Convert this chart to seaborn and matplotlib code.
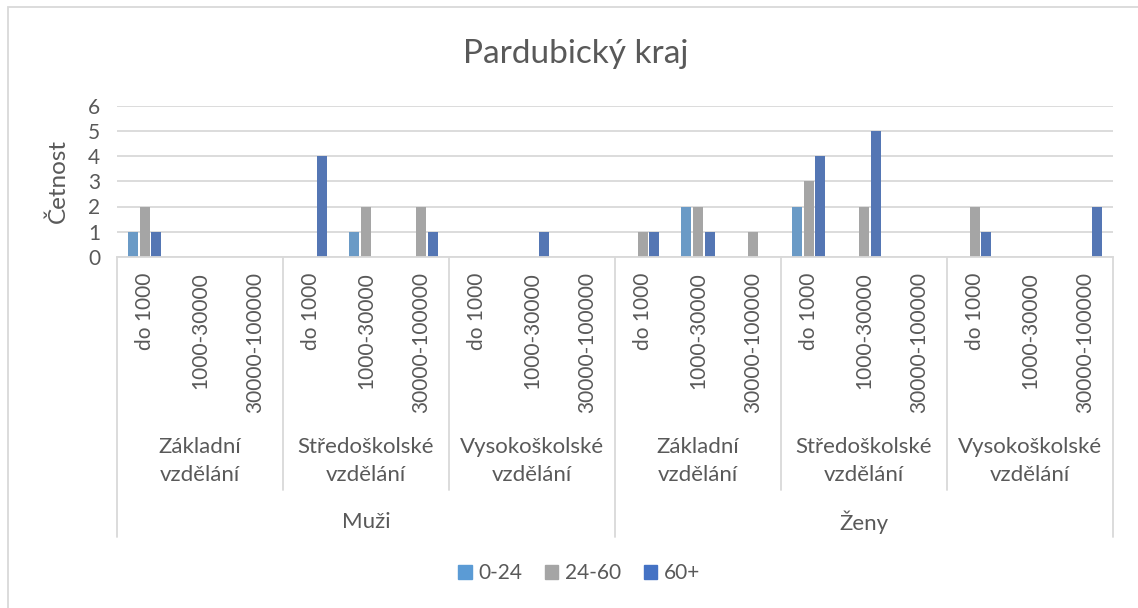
import pandas as pd
import matplotlib
matplotlib.use("Agg")
import matplotlib.pyplot as plt
import seaborn as sns
from matplotlib.patches import Rectangle

# data
velikost = ["do 1000", "1000-30000", "30000-100000"]
vzdelani = ["Základní\nvzdělání", "Středoškolské\nvzdělání", "Vysokoškolské\nvzdělání"]
pohlavi = ["Muži", "Ženy"]
vek = ["0-24", "24-60", "60+"]
hodnoty_0_24 = [1, 0, 0, 0, 1, 0, 0, 0, 0, 0, 2, 0, 2, 0, 0, 0, 0, 0]
hodnoty_24_60 = [2, 0, 0, 0, 2, 2, 0, 0, 0, 1, 2, 1, 3, 2, 0, 2, 0, 0]
hodnoty_60 = [1, 0, 0, 4, 0, 1, 0, 1, 0, 1, 1, 0, 4, 5, 0, 1, 0, 2]
barvy = ["#5B9BD5", "#A5A5A5", "#4472C4"]

sns.set_style("white")
plt.rcParams['font.family'] = ['Lato', 'DejaVu Sans']
seda = "#595959"
mrizka = "#D9D9D9"

# long table for seaborn
kategorie = []
for p in pohlavi:
    for v in vzdelani:
        for s in velikost:
            kategorie.append(p + "|" + v + "|" + s)
radky = []
for nazev, serie in zip(vek, [hodnoty_0_24, hodnoty_24_60, hodnoty_60]):
    for k, h in zip(kategorie, serie):
        radky.append({"kategorie": k, "vek": nazev, "hodnota": h})
df = pd.DataFrame(radky)

W, H = 1138, 608
fig = plt.figure(figsize=(W / 100, H / 100), dpi=100)
fig.patches.append(Rectangle((8 / W, -0.1), 1.2, 1 - 7 / H + 0.1, transform=fig.transFigure,
                             fill=False, edgecolor=mrizka, lw=1.3))

ax_l, ax_r, ax_t, ax_b = 117, 1113, 105.5, 257
ax = fig.add_axes([ax_l / W, 1 - ax_b / H, (ax_r - ax_l) / W, (ax_b - ax_t) / H])

sns.barplot(data=df, x="kategorie", y="hodnota", hue="vek", order=kategorie,
            hue_order=vek, palette=barvy, width=0.63, gap=0.15, linewidth=0,
            ax=ax, legend=False)

ax.set_ylim(0, 6)
ax.set_xlim(-0.5, len(kategorie) - 0.5)
ax.set_yticks(range(0, 7))
ax.yaxis.grid(True, color=mrizka, lw=1.3)
ax.set_axisbelow(True)
for s in ["top", "right", "left"]:
    ax.spines[s].set_visible(False)
ax.spines["bottom"].set_color(mrizka)
ax.spines["bottom"].set_linewidth(1.3)
ax.tick_params(axis="both", length=0, labelsize=15, labelcolor=seda)
ax.tick_params(axis="y", pad=12)
ax.tick_params(axis="x", pad=11)
ax.set_xticks(range(len(kategorie)))
ax.set_xticklabels(velikost * (len(pohlavi) * len(vzdelani)), rotation=90, va="top")
ax.set_xlabel("")
ax.set_ylabel("")

# multi-level category axis
vyska = ax_b - ax_t
trans = ax.get_xaxis_transform()
for i in range(len(pohlavi) * len(vzdelani) + 1):
    x = i * 3 - 0.5
    konec = 537 if i % 3 == 0 else 490
    ax.plot([x, x], [0, -(konec - ax_b) / vyska], transform=trans, color=mrizka,
            lw=1.3, clip_on=False)
for j, p in enumerate(pohlavi):
    for k, v in enumerate(vzdelani):
        stred = j * 9 + k * 3 + 1
        ax.text(stred, -(461 - ax_b) / vyska, v, transform=trans, ha="center",
                va="center", fontsize=16, color=seda, linespacing=1.5)
    ax.text(j * 9 + 4, -(522 - ax_b) / vyska, p, transform=trans, ha="center",
            va="center", fontsize=16, color=seda)

fig.text(576 / W, 1 - 54 / H, "Pardubický kraj", ha="center", va="center",
         fontsize=24, color=seda)
fig.text(58 / W, 1 - 181 / H, "Četnost", ha="center", va="center", rotation=90,
         fontsize=17.5, color=seda)

znacky = [Rectangle((0, 0), 1, 1, color=c) for c in barvy]
fig.legend(znacky, vek, loc="center", bbox_to_anchor=(579 / W, 1 - 573 / H), ncol=3,
           frameon=False, fontsize=15, labelcolor=seda, handlelength=0.65,
           handleheight=0.65, handletextpad=0.3, columnspacing=1.1)

fig.savefig("out.png", dpi=100)
